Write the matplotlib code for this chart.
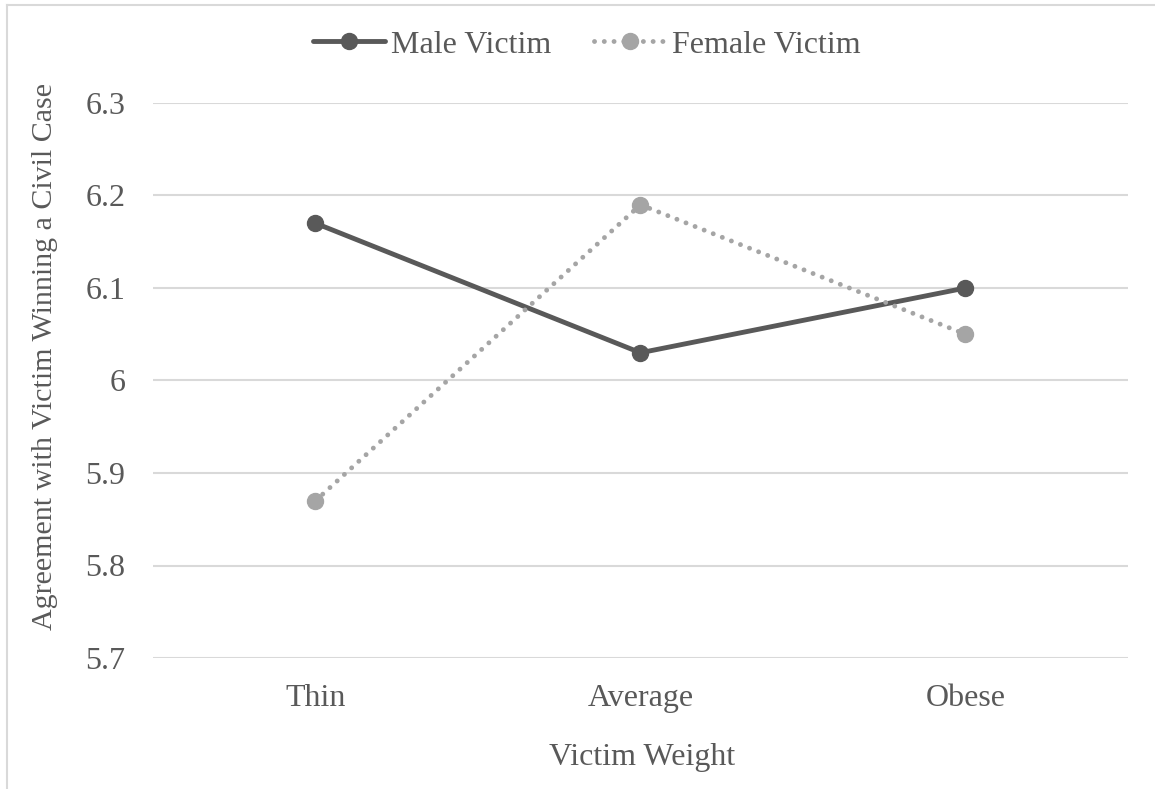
import matplotlib
matplotlib.use("Agg")
import matplotlib.pyplot as plt
from matplotlib.lines import Line2D

categories = ["Thin", "Average", "Obese"]
male_victim = [6.17, 6.03, 6.10]
female_victim = [5.87, 6.19, 6.05]
y_ticks = [5.7, 5.8, 5.9, 6.0, 6.1, 6.2, 6.3]
y_tick_labels = ["5.7", "5.8", "5.9", "6", "6.1", "6.2", "6.3"]

plt.rcParams['font.family'] = ['Liberation Serif', 'DejaVu Serif']
text_color = "#595959"
fs = 23

fig = plt.figure(figsize=(11.55, 7.89), dpi=100)
ax = fig.add_axes([153/1155, 1-658/789, (1128-153)/1155, (658-103)/789])

x = list(range(len(categories)))
ax.plot(x, male_victim, color="#595959", lw=3.5, marker="o", ms=11.5,
        solid_capstyle="round", label="Male Victim", zorder=3)
ax.plot(x, female_victim, color="#A5A5A5", lw=3.5, marker="o", ms=11.5,
        linestyle=(0, (0.01, 2.0)), dash_capstyle="round", label="Female Victim", zorder=3)

ax.set_xlim(-0.5, 2.5)
ax.set_ylim(5.7, 6.3)
ax.set_xticks(x)
ax.set_xticklabels(categories)
ax.set_yticks(y_ticks)
ax.set_yticklabels(y_tick_labels)
ax.tick_params(axis="both", length=0, labelsize=fs, colors=text_color)
ax.tick_params(axis="y", pad=20)
ax.tick_params(axis="x", pad=19)
for s in ax.spines.values():
    s.set_visible(False)
ax.grid(axis="y", color="#D9D9D9", lw=1.5)
ax.set_axisbelow(True)

fig.text(642/1155, 1-758/789, "Victim Weight", ha="center", va="center",
         fontsize=fs, color=text_color)
fig.text(45/1155, 1-357/789, "Agreement with Victim Winning a Civil Case",
         ha="center", va="center", rotation=90, fontsize=21.6, color=text_color)

leg = fig.legend(loc="center", bbox_to_anchor=(587/1155, 1-45/789), ncol=2,
                 frameon=False, fontsize=fs, labelcolor=text_color,
                 handlelength=2.25, columnspacing=1.35, handletextpad=0.19)

# figure border (left and top visible)
fig.add_artist(Line2D([7/1155, 7/1155], [0, 1-5/789], color="#D9D9D9", lw=1.5,
                      transform=fig.transFigure))
fig.add_artist(Line2D([7/1155, 1], [1-5/789, 1-5/789], color="#D9D9D9", lw=1.5,
                      transform=fig.transFigure))

fig.savefig("out.png", dpi=100)
